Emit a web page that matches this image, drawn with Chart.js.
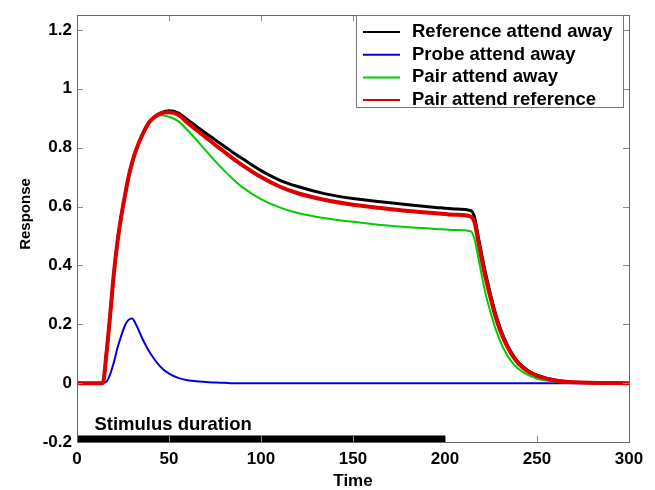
<!DOCTYPE html>
<html>
<head>
<meta charset="utf-8">
<script src="https://cdn.jsdelivr.net/npm/chart.js@4/dist/chart.umd.min.js"></script>
<style>
  html, body { margin: 0; padding: 0; background: #fff; }
  #wrap { width: 655px; height: 490px; }
</style>
</head>
<body>
<div id="wrap"><canvas id="myChart"></canvas></div>
<script>
"use strict";

const time = [0, 14, 16, 18, 20, 22, 24, 26, 28, 30, 32, 36, 40, 45, 50, 55, 60, 65, 70, 75,
  80, 85, 90, 100, 110, 120, 135, 150, 165, 180, 195, 205, 214, 216, 218, 220, 222, 225, 228, 232,
  236, 240, 245, 250, 260, 270, 300];

const refAway = [0, 0, 0.1, 0.23, 0.37, 0.48, 0.565, 0.635, 0.7, 0.75, 0.79, 0.85, 0.893, 0.917, 0.925, 0.918, 0.895, 0.872, 0.849, 0.827,
  0.805, 0.783, 0.762, 0.722, 0.69, 0.668, 0.643, 0.627, 0.616, 0.606, 0.597, 0.592, 0.586, 0.565, 0.5, 0.435, 0.375, 0.295, 0.225, 0.155,
  0.105, 0.07, 0.043, 0.027, 0.01, 0.003, 0];

const probeAway = [0, 0, 0.005, 0.03, 0.07, 0.12, 0.16, 0.195, 0.215, 0.22, 0.2, 0.145, 0.1, 0.058, 0.032, 0.018, 0.01, 0.006, 0.004, 0.002,
  0.001, 0, 0, 0, 0, 0, 0, 0, 0, 0, 0, 0, 0, 0, 0, 0, 0, 0, 0, 0,
  0, 0, 0, 0, 0, 0, 0];

const pairAway = [0, 0, 0.1, 0.23, 0.37, 0.48, 0.565, 0.635, 0.7, 0.75, 0.79, 0.85, 0.89, 0.91, 0.905, 0.89, 0.86, 0.826, 0.79, 0.755,
  0.722, 0.692, 0.665, 0.625, 0.597, 0.578, 0.56, 0.548, 0.537, 0.53, 0.524, 0.52, 0.516, 0.49, 0.43, 0.365, 0.305, 0.235, 0.175, 0.115,
  0.075, 0.048, 0.028, 0.016, 0.005, 0.001, 0];

const pairRef = [0, 0, 0.1, 0.23, 0.37, 0.48, 0.565, 0.635, 0.7, 0.75, 0.79, 0.85, 0.892, 0.915, 0.92, 0.912, 0.885, 0.86, 0.835, 0.81,
  0.786, 0.762, 0.74, 0.7, 0.668, 0.645, 0.622, 0.606, 0.595, 0.585, 0.577, 0.572, 0.566, 0.548, 0.485, 0.42, 0.36, 0.283, 0.215, 0.148,
  0.1, 0.066, 0.04, 0.025, 0.009, 0.003, 0];

const stimTime = [0, 200];
const stimLevel = [-0.19, -0.19];

const xTicks = [0, 50, 100, 150, 200, 250, 300];
const yTicks = [-0.2, 0, 0.2, 0.4, 0.6, 0.8, 1, 1.2];

const FONT = "'Liberation Sans', Arial, Helvetica, sans-serif";

const pts = (xs, ys) => xs.map((x, i) => ({ x: x, y: ys[i] }));

const framePlugin = {
    id: 'matlabFrame',
    afterDatasetsDraw(chart) {
        const ctx = chart.ctx;
        const { left, right, top, bottom } = chart.chartArea;
        const xs = chart.scales.x;
        const ys = chart.scales.y;
        const tl = 6;
        ctx.save();

        // tick marks, inside, on all four sides
        ctx.strokeStyle = '#8a8a8a';
        ctx.lineWidth = 1;
        ctx.beginPath();
        xTicks.forEach(v => {
            const px = Math.round(xs.getPixelForValue(v)) + 0.5;
            ctx.moveTo(px, bottom); ctx.lineTo(px, bottom - tl);
            ctx.moveTo(px, top); ctx.lineTo(px, top + tl);
        });
        yTicks.forEach(v => {
            const py = Math.round(ys.getPixelForValue(v)) + 0.5;
            ctx.moveTo(left, py); ctx.lineTo(left + tl, py);
            ctx.moveTo(right, py); ctx.lineTo(right - tl, py);
        });
        ctx.stroke();

        // box
        ctx.strokeStyle = '#666';
        ctx.strokeRect(Math.round(left) + 0.5, Math.round(top) + 0.5,
            Math.round(right - left), Math.round(bottom - top));

        // stimulus label
        ctx.fillStyle = '#000';
        ctx.font = `bold 18.5px ${FONT}`;
        ctx.textBaseline = 'middle';
        ctx.textAlign = 'left';
        ctx.fillText('Stimulus duration', xs.getPixelForValue(9.5), ys.getPixelForValue(-0.142));

        // y axis title
        ctx.save();
        ctx.translate(26, 214);
        ctx.rotate(-Math.PI / 2);
        ctx.textAlign = 'center';
        ctx.font = `bold 15px ${FONT}`;
        ctx.fillText('Response', 0, 0);
        ctx.restore();

        // legend
        const items = chart.data.datasets.filter(d => d.label);
        const bx = 356, by = 15, bw = 267, bh = 92;
        ctx.fillStyle = '#fff';
        ctx.fillRect(bx, by, bw, bh);
        ctx.strokeStyle = '#777';
        ctx.strokeRect(bx + 0.5, by + 0.5, bw, bh);
        ctx.font = `bold 18.5px ${FONT}`;
        items.forEach((d, i) => {
            const ry = 32 + i * 22.7;
            ctx.strokeStyle = d.borderColor;
            ctx.lineWidth = 2;
            ctx.beginPath();
            ctx.moveTo(363, ry);
            ctx.lineTo(400, ry);
            ctx.stroke();
            ctx.fillStyle = '#000';
            ctx.fillText(d.label, 412, ry);
        });
        ctx.restore();
    }
};

const ctx = document.getElementById('myChart');

new Chart(ctx, {
    type: 'line',
    data: {
        datasets: [
            {
                label: 'Reference attend away',
                data: pts(time, refAway),
                borderColor: '#000000',
                borderWidth: 3,
                order: 4
            },
            {
                label: 'Probe attend away',
                data: pts(time, probeAway),
                borderColor: '#0000dd',
                borderWidth: 2,
                order: 3
            },
            {
                label: 'Pair attend away',
                data: pts(time, pairAway),
                borderColor: '#00cc00',
                borderWidth: 2,
                order: 2
            },
            {
                label: 'Pair attend reference',
                data: pts(time, pairRef),
                borderColor: '#dd0000',
                borderWidth: 4,
                order: 1
            },
            {
                data: pts(stimTime, stimLevel),
                borderColor: '#000000',
                borderWidth: 7,
                borderCapStyle: 'butt',
                tension: 0,
                order: 5
            }
        ]
    },
    options: {
        responsive: true,
        maintainAspectRatio: false,
        animation: false,
        elements: {
            point: { radius: 0 },
            line: { cubicInterpolationMode: 'monotone', fill: false }
        },
        layout: {
            padding: { top: 8, right: 26, bottom: 0, left: 0 }
        },
        plugins: {
            legend: { display: false },
            tooltip: { enabled: false }
        },
        scales: {
            x: {
                type: 'linear',
                min: 0,
                max: 300,
                border: { display: false },
                grid: { display: false, drawTicks: false },
                afterBuildTicks: (scale) => { scale.ticks = xTicks.map(v => ({ value: v })); },
                afterFit: (scale) => { scale.height = 48; },
                ticks: {
                    color: '#000',
                    padding: 7,
                    maxRotation: 0,
                    font: { family: FONT, size: 17, weight: 'bold' }
                },
                title: {
                    display: true,
                    text: 'Time',
                    color: '#000',
                    padding: { top: 0, bottom: 0 },
                    font: { family: FONT, size: 17, weight: 'bold', lineHeight: 1 }
                }
            },
            y: {
                type: 'linear',
                min: -0.2,
                max: 1.25,
                border: { display: false },
                grid: { display: false, drawTicks: false },
                afterBuildTicks: (scale) => { scale.ticks = yTicks.map(v => ({ value: v })); },
                afterFit: (scale) => { scale.width = 77; },
                ticks: {
                    color: '#000',
                    padding: 5,
                    font: { family: FONT, size: 17, weight: 'bold' },
                    callback: (v) => String(Math.round(v * 10) / 10)
                }
            }
        }
    },
    plugins: [framePlugin]
});
</script>
</body>
</html>
